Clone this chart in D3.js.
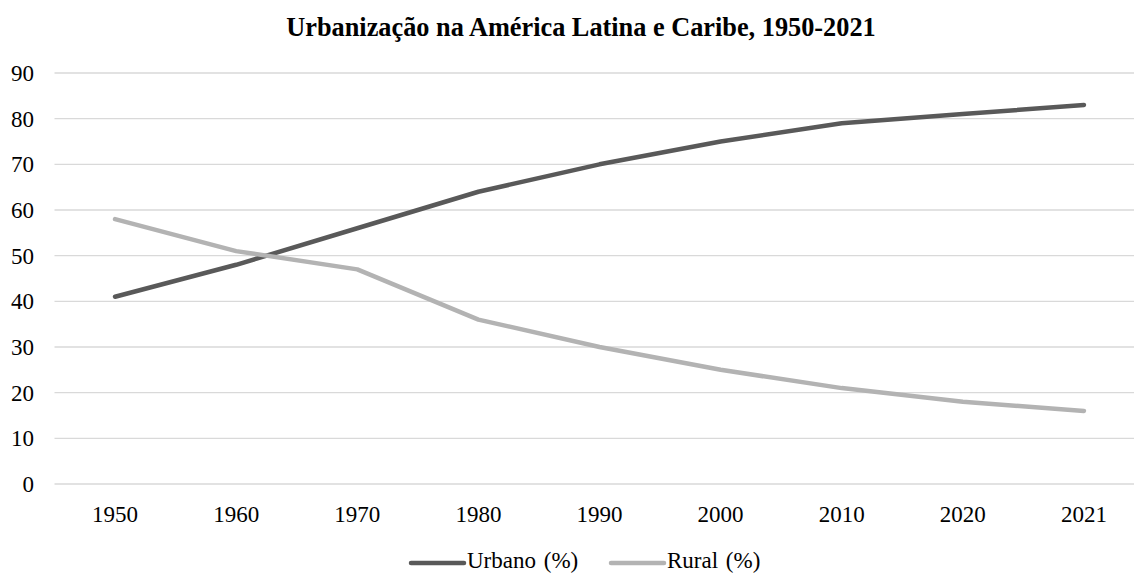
<!DOCTYPE html>
<html>
<head>
<meta charset="utf-8">
<script src="https://cdn.jsdelivr.net/npm/d3@7"></script>
<style>
  body { margin: 0; background: #fff; overflow: hidden; }
  text { font-family: "Liberation Serif", "Times New Roman", serif; fill: #000; }
</style>
</head>
<body>
<script>
// data
const years = ["1950", "1960", "1970", "1980", "1990", "2000", "2010", "2020", "2021"];
const urbano = [41, 48, 56, 64, 70, 75, 79, 81, 83];
const rural = [58, 51, 47, 36, 30, 25, 21, 18, 16];
const yTicks = [0, 10, 20, 30, 40, 50, 60, 70, 80, 90];

const width = 1134, height = 574;
const svg = d3.select("body").append("svg")
    .attr("width", width).attr("height", height);

const x = d3.scaleBand().domain(years).range([54.5, 1144.5]);
const y = d3.scaleLinear().domain([0, 90]).range([484, 73]);

// title
svg.append("text")
    .attr("x", 581).attr("y", 36)
    .attr("text-anchor", "middle")
    .style("font-size", "26.3px").style("font-weight", "bold")
    .text("Urbanização na América Latina e Caribe, 1950-2021");

// gridlines
svg.append("g").selectAll("line").data(yTicks).join("line")
    .attr("x1", x.range()[0]).attr("x2", x.range()[1])
    .attr("y1", d => y(d)).attr("y2", d => y(d))
    .attr("stroke", "#d9d9d9").attr("stroke-width", 1.3);

// y labels
svg.append("g").selectAll("text").data(yTicks).join("text")
    .attr("x", 34).attr("y", d => y(d))
    .attr("dy", "0.35em")
    .attr("text-anchor", "end")
    .style("font-size", "23px")
    .text(d => d);

// x labels
svg.append("g").selectAll("text").data(years).join("text")
    .attr("x", d => x(d) + x.bandwidth() / 2).attr("y", 522)
    .attr("text-anchor", "middle")
    .style("font-size", "23px")
    .text(d => d);

const series = [
    {name: "Urbano (%)", values: urbano, color: "#595959"},
    {name: "Rural (%)", values: rural, color: "#b3b3b3"}
];

const line = d3.line()
    .x((d, i) => x(years[i]) + x.bandwidth() / 2)
    .y(d => y(d));

svg.append("g").selectAll("path").data(series).join("path")
    .attr("d", d => line(d.values))
    .attr("fill", "none")
    .attr("stroke", d => d.color)
    .attr("stroke-width", 4.5)
    .attr("stroke-linecap", "round")
    .attr("stroke-linejoin", "round");

// legend
const legendX = [410, 610];
const lg = svg.append("g").selectAll("g").data(series).join("g")
    .attr("transform", (d, i) => `translate(${legendX[i]},563)`);
lg.append("line")
    .attr("x1", 1).attr("x2", 54).attr("y1", 0).attr("y2", 0)
    .attr("stroke", d => d.color).attr("stroke-width", 4.5)
    .attr("stroke-linecap", "round");
lg.append("text")
    .attr("x", 57).attr("y", 5)
    .style("font-size", "23px")
    .style("word-spacing", "2px")
    .text(d => d.name);
</script>
</body>
</html>
